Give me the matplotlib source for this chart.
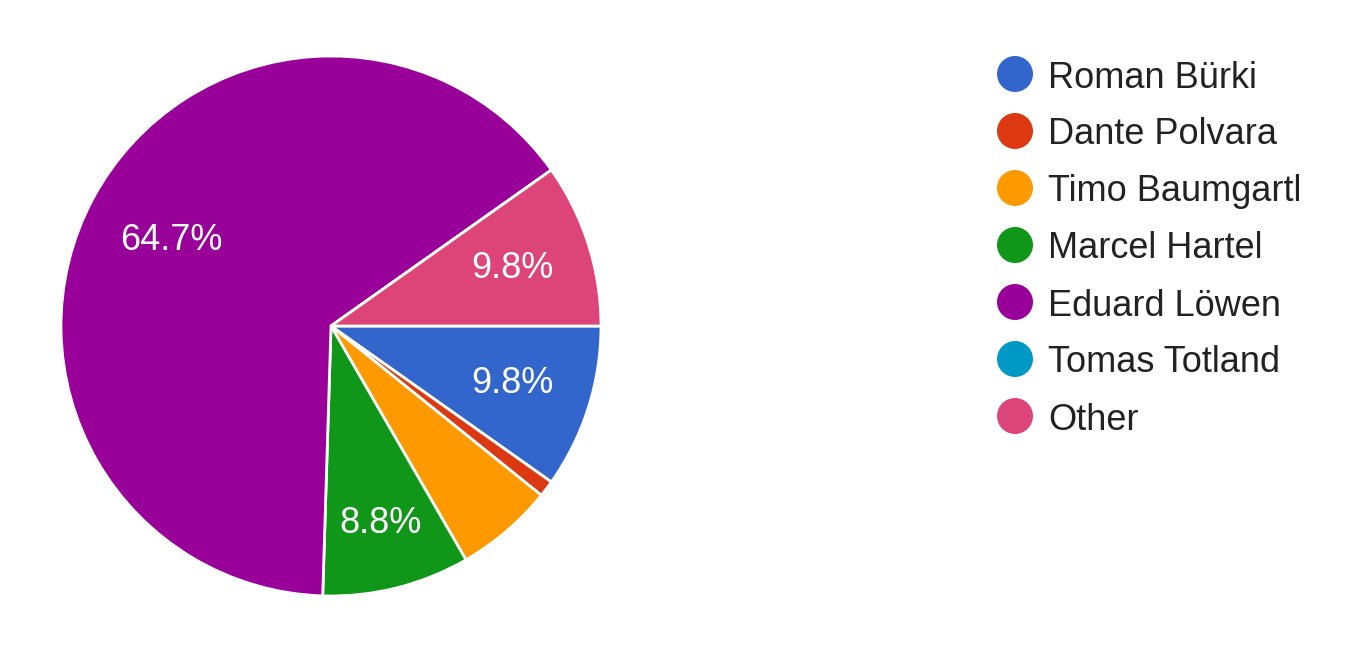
import matplotlib
matplotlib.use("Agg")
import matplotlib.pyplot as plt
import numpy as np

names = ["Roman Bürki", "Dante Polvara", "Timo Baumgartl", "Marcel Hartel",
         "Eduard Löwen", "Tomas Totland", "Other"]
counts = [10, 1, 6, 9, 66, 0, 10]
colors = ["#3366CC", "#DC3912", "#FF9900", "#109618", "#990099", "#0099C6", "#DD4477"]

plt.rcParams['font.family'] = ['Liberation Sans', 'DejaVu Sans']

W, H = 1360, 649
fig = plt.figure(figsize=(W / 100, H / 100), dpi=100)

cx, cy, r = 331, 326, 270
ax = fig.add_axes([(cx - r) / W, (H - cy - r) / H, 2 * r / W, 2 * r / H])

def fmt(p):
    return f"{p:.1f}%" if p >= 8 else ""

wedges, texts, autotexts = ax.pie(
    counts, colors=colors, startangle=0, counterclock=False,
    autopct=fmt, pctdistance=0.69, radius=1,
    wedgeprops=dict(edgecolor="white", linewidth=2),
    textprops=dict(color="white", fontsize=26))

# label radial distances (Google-style placement)
label_dist = [0.705, 0.7, 0.7, 0.755, 0.67, 0.7, 0.705]
for w, t, d in zip(wedges, autotexts, label_dist):
    ang = np.deg2rad((w.theta1 + w.theta2) / 2)
    t.set_position((d * np.cos(ang), d * np.sin(ang)))

ax.set_xlim(-1.0, 1.0)
ax.set_ylim(-1.0, 1.0)
ax.set_aspect("equal")
ax.axis("off")

# legend
lx_c, lx_t = 1015, 1048
y0, dy = 74, 57
for i, (n, c) in enumerate(zip(names, colors)):
    y = y0 + i * dy
    fig.patches.append(matplotlib.patches.Ellipse(
        (lx_c / W, 1 - y / H), 36 / W, 36 / H, transform=fig.transFigure,
        facecolor=c, edgecolor="none"))
    fig.text(lx_t / W, 1 - y / H, n, fontsize=26, color="#222222",
             va="center_baseline", ha="left")

fig.savefig("out.png", dpi=100)
